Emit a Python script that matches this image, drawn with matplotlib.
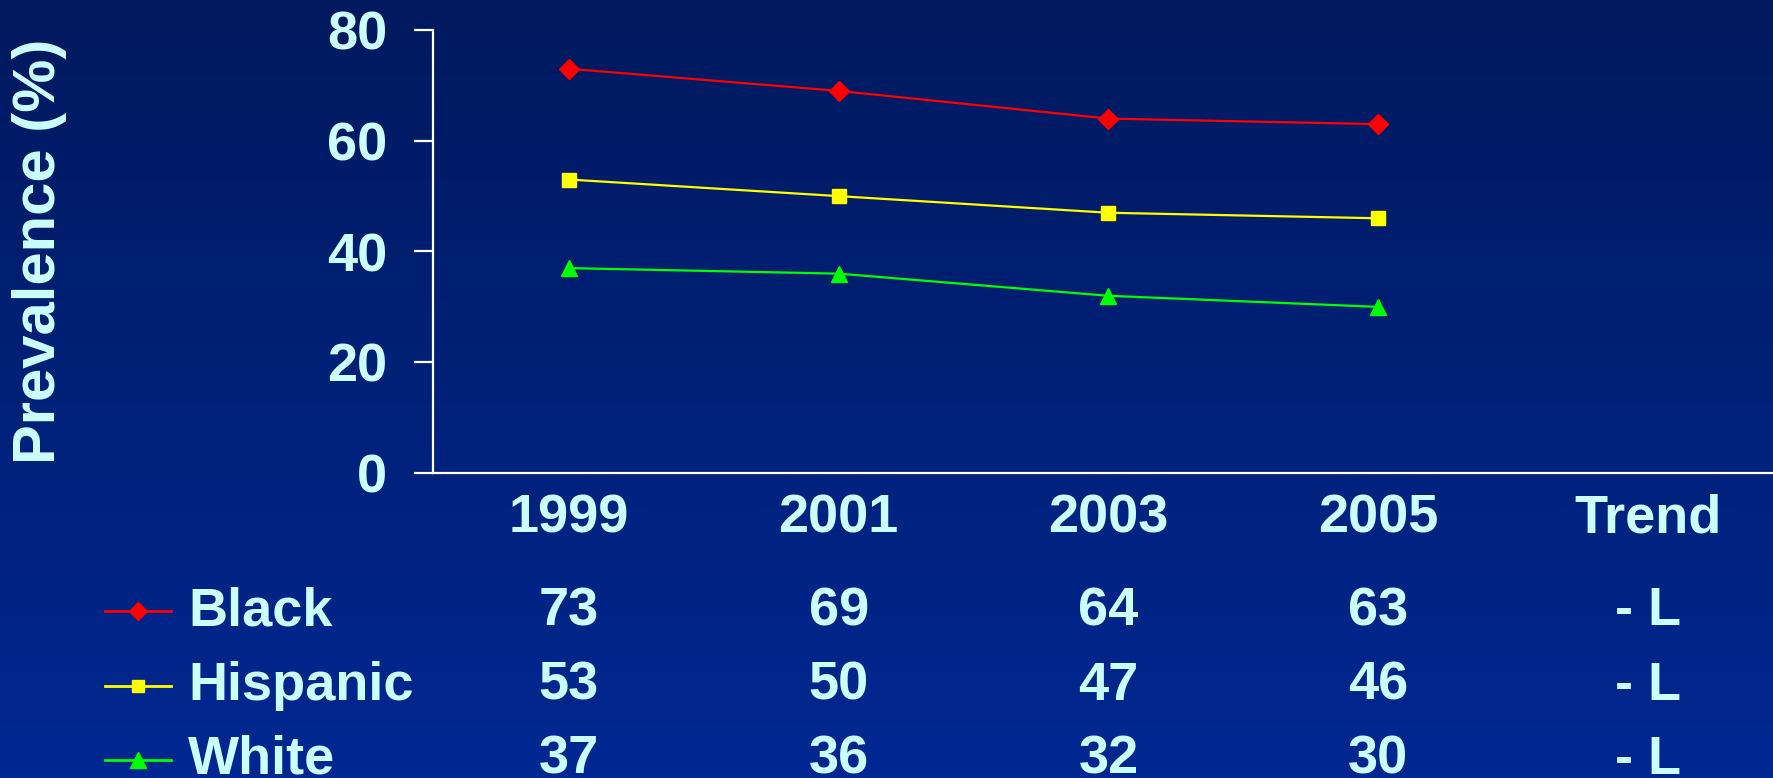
import numpy as np
import matplotlib
matplotlib.use("Agg")
import matplotlib.pyplot as plt
from matplotlib.lines import Line2D

# Prevalence (%) by survey year
years = ["1999", "2001", "2003", "2005"]
columns = years + ["Trend"]
groups = ["Black", "Hispanic", "White"]
black = [73, 69, 64, 63]
hispanic = [53, 50, 47, 46]
white = [37, 36, 32, 30]
trends = ["- L", "- L", "- L"]

series = [black, hispanic, white]
colors = ["#ff0000", "#ffff00", "#00ff00"]
markers = ["D", "s", "^"]
marker_sizes = [10, 9.5, 12]
text_color = "#ccffff"
font = "Liberation Sans"
fs = 39

W, H = 1773, 778
fig = plt.figure(figsize=(W / 100, H / 100), dpi=100)

# vertical blue gradient background
bg = fig.add_axes([0, 0, 1, 1], zorder=-10)
top = np.array([0, 25, 94]) / 255
bottom = np.array([0, 40, 146]) / 255
t = np.linspace(0, 1, 256)[:, None]
grad = (top[None, :] * (1 - t) + bottom[None, :] * t)[:, None, :]
bg.imshow(grad, aspect="auto", extent=[0, 1, 0, 1], origin="upper")
bg.set_axis_off()

ax = fig.add_axes([433 / W, 1 - 473 / H, 1 - 433 / W, (473 - 30) / H])
ax.patch.set_alpha(0)

x = np.arange(len(years))
for vals, c, m, ms in zip(series, colors, markers, marker_sizes):
    ax.plot(x, vals, color=c, lw=1.6, marker=m, ms=ms, mec=c, mfc=c,
            clip_on=False, zorder=3)

ax.set_ylim(0, 80)
ax.set_xlim(-0.504, 4.464)
ax.set_yticks([0, 20, 40, 60, 80])
ax.set_xticks(range(len(columns)))
ax.set_xticklabels(columns)

for side in ["top", "right"]:
    ax.spines[side].set_visible(False)
for side in ["left", "bottom"]:
    ax.spines[side].set_color("white")
    ax.spines[side].set_linewidth(1.6)

ax.tick_params(axis="y", colors="white", length=14, width=1.6, pad=19,
               labelcolor=text_color, labelsize=fs)
ax.tick_params(axis="x", length=0, pad=15, labelcolor=text_color, labelsize=fs)
for lab in ax.get_yticklabels() + ax.get_xticklabels():
    lab.set_fontfamily(font)
    lab.set_fontweight("bold")

fig.text(40 / W, 1 - 251 / H, "Prevalence (%)", rotation=90, ha="center",
         va="center", color=text_color, fontsize=43, fontweight="bold",
         family=font)

# data table below the axis, one row per group
row_y = [611, 686, 760]
tr = matplotlib.transforms.blended_transform_factory(ax.transData, fig.transFigure)
for gi, (name, vals, trend) in enumerate(zip(groups, series, trends)):
    yf = 1 - row_y[gi] / H
    fig.add_artist(Line2D([105 / W, 171 / W], [yf, yf], color=colors[gi], lw=2.0))
    fig.add_artist(Line2D([138 / W], [yf], color=colors[gi], lw=0,
                          marker=markers[gi], ms=marker_sizes[gi] * 0.95,
                          mfc=colors[gi], mec=colors[gi]))
    fig.text(188 / W, yf, name, ha="left", va="center", color=text_color,
             fontsize=fs, fontweight="bold", family=font)
    for xi, v in enumerate(vals):
        ax.text(xi, yf, str(v), transform=tr, ha="center", va="center",
                color=text_color, fontsize=fs, fontweight="bold", family=font)
    ax.text(len(vals), yf, trend, transform=tr, ha="center", va="center",
            color=text_color, fontsize=fs, fontweight="bold", family=font)

fig.savefig("out.png", dpi=100)
